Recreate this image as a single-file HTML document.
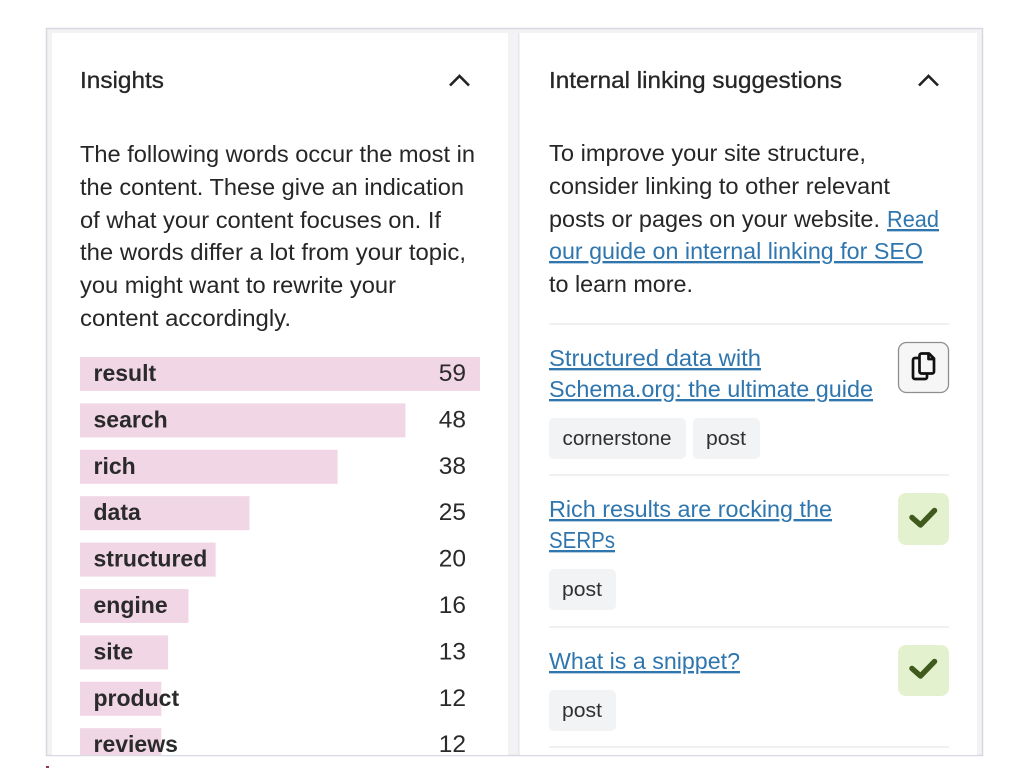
<!DOCTYPE html>
<html lang="en">
<head>
<meta charset="utf-8">
<title>Insights and internal linking suggestions</title>
<style>
  html, body { margin: 0; padding: 0; background: #fff; width: 1024px; height: 768px; overflow: hidden; }
  svg { display: block; font-family: "Liberation Sans", sans-serif; }
  text { fill: #262626; font-size: 23.5px; }
  .heading { stroke: #262626; stroke-width: .3px; font-size: 23px; }
  .link { fill: #2f76ae; text-decoration: underline; cursor: pointer; }
  .tag-text { font-size: 20px; fill: #303030; }
  .word { font-weight: bold; font-size: 23px; fill: #2a2a2a; }
  .count { font-size: 24.5px; text-anchor: end; fill: #2a2a2a; }
</style>
</head>
<body>
<svg id="page" width="1024" height="768" viewBox="0 0 1024 768" xmlns="http://www.w3.org/2000/svg">
  <defs>
    <clipPath id="frame-clip"><rect x="52" y="33" width="456" height="722"/></clipPath>
  </defs>
  <rect x="46.5" y="28.5" width="936" height="727" fill="#f3f3f5" stroke="#d6d9e0" stroke-width="1.5"/>
  <rect x="52" y="33" width="456" height="722" fill="#fff"/>
  <rect x="520" y="33" width="457" height="722" fill="#fff"/>
  <line x1="518.5" y1="33" x2="518.5" y2="755" stroke="#e6e6ea" stroke-width="1"/>

  <text class="heading" x="80" y="88" textLength="84" lengthAdjust="spacingAndGlyphs">Insights</text>
  <path d="M450 85.500 L459.500 76 L469 85.500" fill="none" stroke="#222" stroke-width="2.600"/>

  <g>
    <text x="80" y="162" textLength="395" lengthAdjust="spacingAndGlyphs">The following words occur the most in</text>
    <text x="80" y="195" textLength="384" lengthAdjust="spacingAndGlyphs">the content. These give an indication</text>
    <text x="80" y="228" textLength="361" lengthAdjust="spacingAndGlyphs">of what your content focuses on. If</text>
    <text x="80" y="260" textLength="386" lengthAdjust="spacingAndGlyphs">the words differ a lot from your topic,</text>
    <text x="80" y="293" textLength="316" lengthAdjust="spacingAndGlyphs">you might want to rewrite your</text>
    <text x="80" y="326" textLength="211" lengthAdjust="spacingAndGlyphs">content accordingly.</text>
  </g>

  <g id="chart" clip-path="url(#frame-clip)"></g>

  <text class="heading" x="549" y="88" textLength="293" lengthAdjust="spacingAndGlyphs">Internal linking suggestions</text>
  <path d="M919 85.500 L928.500 76 L938 85.500" fill="none" stroke="#222" stroke-width="2.600"/>

  <g>
    <text x="549" y="161" textLength="317" lengthAdjust="spacingAndGlyphs">To improve your site structure,</text>
    <text x="549" y="194" textLength="341" lengthAdjust="spacingAndGlyphs">consider linking to other relevant</text>
    <text x="549" y="227" textLength="331" lengthAdjust="spacingAndGlyphs">posts or pages on your website.</text>
    <text class="link" x="887" y="227" textLength="52" lengthAdjust="spacingAndGlyphs">Read</text>
    <text class="link" x="549" y="259" textLength="374" lengthAdjust="spacingAndGlyphs">our guide on internal linking for SEO</text>
    <text x="549" y="292" textLength="144" lengthAdjust="spacingAndGlyphs">to learn more.</text>
  </g>

  <line x1="549" y1="324" x2="949" y2="324" stroke="#e6e6e6" stroke-width="1.200"/>

  <g>
    <text class="link" x="549" y="366" textLength="212" lengthAdjust="spacingAndGlyphs">Structured data with</text>
    <text class="link" x="549" y="397" textLength="324" lengthAdjust="spacingAndGlyphs">Schema.org: the ultimate guide</text>
    <rect x="549" y="418" width="137" height="41" rx="5" fill="#f2f3f5"/>
    <text class="tag-text" x="562.500" y="445" textLength="109" lengthAdjust="spacingAndGlyphs">cornerstone</text>
    <rect x="693" y="418" width="67" height="41" rx="5" fill="#f2f3f5"/>
    <text class="tag-text" x="706" y="445" textLength="40" lengthAdjust="spacingAndGlyphs">post</text>
    <g>
      <rect x="898.500" y="342.500" width="50" height="50" rx="8" fill="#f6f6f6" stroke="#8e8e8e" stroke-width="1.300"/>
      <path d="M919 358 H915 A2 2 0 0 0 913 360 V377 A2 2 0 0 0 915 379 H925 A2 2 0 0 0 927 377 V374 M921.500 353.500 H929 L934 358.500 V371.500 A2 2 0 0 1 932 373.500 H921.500 A2 2 0 0 1 919.500 371.500 V355.500 A2 2 0 0 1 921.500 353.500 Z M928.500 353.500 V359 H934" fill="none" stroke="#111" stroke-width="2.700" stroke-linejoin="round"/>
    </g>
  </g>

  <line x1="549" y1="475" x2="949" y2="475" stroke="#e6e6e6" stroke-width="1.200"/>

  <g>
    <text class="link" x="549" y="517" textLength="283" lengthAdjust="spacingAndGlyphs">Rich results are rocking the</text>
    <text class="link" x="549" y="548" textLength="66" lengthAdjust="spacingAndGlyphs">SERPs</text>
    <rect x="549" y="569" width="67" height="41" rx="5" fill="#f2f3f5"/>
    <text class="tag-text" x="562" y="596" textLength="40" lengthAdjust="spacingAndGlyphs">post</text>
    <rect x="898" y="493" width="51" height="52" rx="8" fill="#e4f1cf"/>
    <path d="M912 517.500 L920.500 525 L934.500 510.500" fill="none" stroke="#3f5a1c" stroke-width="5.500" stroke-linejoin="round" stroke-linecap="round"/>
  </g>

  <line x1="549" y1="627" x2="949" y2="627" stroke="#e6e6e6" stroke-width="1.200"/>

  <g>
    <text class="link" x="549" y="669" textLength="191" lengthAdjust="spacingAndGlyphs">What is a snippet?</text>
    <rect x="549" y="690" width="67" height="41" rx="5" fill="#f2f3f5"/>
    <text class="tag-text" x="562" y="717" textLength="40" lengthAdjust="spacingAndGlyphs">post</text>
    <rect x="898" y="645" width="51" height="51" rx="8" fill="#e4f1cf"/>
    <path d="M912 668.500 L920.500 676 L934.500 661.500" fill="none" stroke="#3f5a1c" stroke-width="5.500" stroke-linejoin="round" stroke-linecap="round"/>
  </g>

  <line x1="549" y1="747" x2="949" y2="747" stroke="#e6e6e6" stroke-width="1.200"/>
  <rect x="46" y="766" width="3" height="2" fill="#8a3a5f"/>
</svg>

<script>
const words = ["result", "search", "rich", "data", "structured", "engine", "site", "product", "reviews"];
const counts = [59, 48, 38, 25, 20, 16, 13, 12, 12];

const chartLeft = 80;
const chartWidth = 400;
const rowTop = 357;
const rowStep = 46.4;
const barHeight = 34;
const maxCount = Math.max(...counts);

function xScale(value) {
  return value / maxCount * chartWidth;
}
function yScale(index) {
  return rowTop + index * rowStep;
}

const svgNS = "http://www.w3.org/2000/svg";
const chart = document.getElementById("chart");

words.forEach(function (word, i) {
  const bar = document.createElementNS(svgNS, "rect");
  
  
  bar.setAttribute("x", chartLeft);
  bar.setAttribute("y", yScale(i));
  bar.setAttribute("width", xScale(counts[i]));
  bar.setAttribute("height", barHeight);
  bar.setAttribute("fill", "#f1d6e5");
  chart.appendChild(bar);

  const label = document.createElementNS(svgNS, "text");
  
  
  label.setAttribute("class", "word");
  label.setAttribute("x", chartLeft + 13.5);
  label.setAttribute("y", yScale(i) + 24);
  label.textContent = word;
  chart.appendChild(label);

  const count = document.createElementNS(svgNS, "text");
  
  
  count.setAttribute("class", "count");
  count.setAttribute("x", 466);
  count.setAttribute("y", yScale(i) + 24);
  count.textContent = counts[i];
  chart.appendChild(count);
});
</script>
</body>
</html>
